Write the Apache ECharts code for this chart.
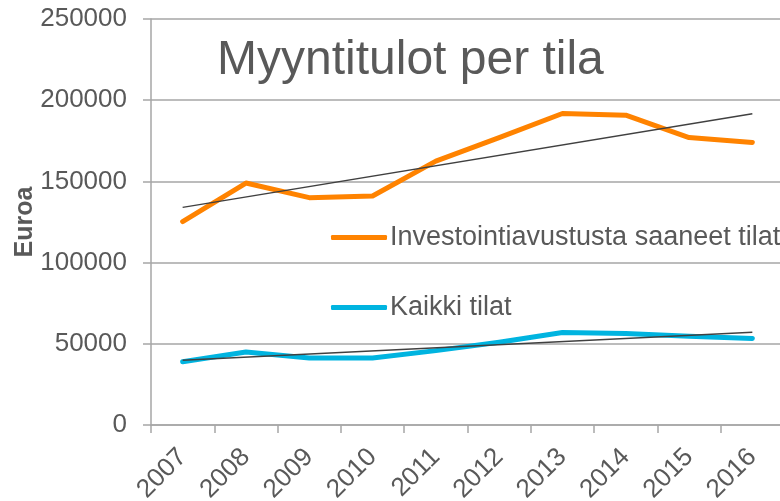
<!DOCTYPE html>
<html>
<head>
<meta charset="utf-8">
<style>
  html, body { margin: 0; padding: 0; background: #fff; }
  #chart { width: 780px; height: 501px; }
</style>
<script src="https://cdn.jsdelivr.net/npm/echarts@6/dist/echarts.min.js"></script>
</head>
<body>
<div id="chart"></div>
<script>
// Data
var years = ['2007', '2008', '2009', '2010', '2011', '2012', '2013', '2014', '2015', '2016'];
var investointi = [125300, 149000, 140000, 141000, 162500, 177000, 191800, 190800, 177000, 174000];
var kaikki = [38900, 45000, 41200, 41200, 45800, 51000, 56900, 56300, 54700, 53300];
// Linear trend lines, end points
var investointiTrend = [134000, null, null, null, null, null, null, null, null, 191700];
var kaikkiTrend = [39900, null, null, null, null, null, null, null, null, 57100];

var textColor = '#595959';
var gridColor = '#a6a6a6';
var fontFamily = 'Liberation Sans, Arial, sans-serif';

var chart = echarts.init(document.getElementById('chart'));

chart.setOption({
    animation: false,
    textStyle: {
        fontFamily: fontFamily
    },

    grid: {
        left: 151,
        top: 19,
        width: 633,
        height: 406,
        outerBoundsMode: 'none'
    },

    title: {
        text: 'Myyntitulot per tila',
        left: 212,
        top: 32,
        textStyle: {
            fontSize: 48,
            fontWeight: 'normal',
            color: textColor,
            fontFamily: fontFamily
        }
    },

    legend: {
        orient: 'vertical',
        left: 331,
        top: 224,
        padding: 0,
        itemGap: 43,
        itemWidth: 56,
        itemHeight: 5,
        data: [
            { name: 'Investointiavustusta saaneet tilat', icon: 'roundRect' },
            { name: 'Kaikki tilat', icon: 'roundRect' }
        ],
        textStyle: {
            fontSize: 27,
            color: textColor,
            padding: [0, 0, 0, -2]
        }
    },

    xAxis: {
        type: 'category',
        boundaryGap: true,
        data: years,
        axisLine: {
            lineStyle: { color: gridColor, width: 1.5 }
        },
        axisTick: {
            show: true,
            length: 8,
            lineStyle: { color: gridColor, width: 1.5 }
        },
        axisLabel: {
            rotate: 45,
            margin: 28,
            fontSize: 26,
            color: textColor,
            interval: 0
        },
        splitLine: { show: false }
    },

    yAxis: {
        type: 'value',
        min: 0,
        max: 250000,
        interval: 50000,
        name: 'Euroa',
        nameLocation: 'middle',
        nameGap: 113,
        nameMoveOverlap: false,
        nameTextStyle: {
            fontSize: 25,
            fontWeight: 'bold',
            color: textColor
        },
        axisLine: {
            show: true,
            lineStyle: { color: gridColor, width: 1.5 }
        },
        axisTick: {
            show: true,
            length: 8,
            lineStyle: { color: gridColor, width: 1.5 }
        },
        axisLabel: {
            margin: 24,
            fontSize: 26,
            color: textColor,
            formatter: function (v) { return String(v); }
        },
        splitLine: {
            show: true,
            lineStyle: { color: gridColor, width: 1.5 }
        }
    },

    series: [
        {
            name: 'Investointiavustusta saaneet tilat',
            type: 'line',
            data: investointi,
            symbol: 'none',
            color: '#ff8300',
            lineStyle: { width: 5, cap: 'round', join: 'round' },
            z: 3
        },
        {
            name: 'Kaikki tilat',
            type: 'line',
            data: kaikki,
            symbol: 'none',
            color: '#00b4e0',
            lineStyle: { width: 5, cap: 'round', join: 'round' },
            z: 3
        },
        {
            name: 'trend1',
            type: 'line',
            data: investointiTrend,
            connectNulls: true,
            symbol: 'none',
            color: '#404040',
            lineStyle: { width: 1.5 },
            z: 4
        },
        {
            name: 'trend2',
            type: 'line',
            data: kaikkiTrend,
            connectNulls: true,
            symbol: 'none',
            color: '#404040',
            lineStyle: { width: 1.5 },
            z: 4
        }
    ]
});
</script>
</body>
</html>
